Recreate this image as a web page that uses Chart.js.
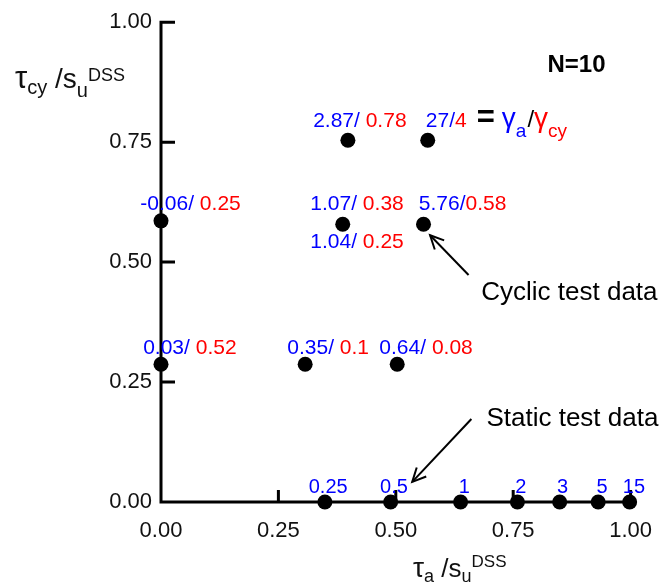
<!DOCTYPE html>
<html><head><meta charset="utf-8">
<script src="https://cdn.jsdelivr.net/npm/chart.js@4.4.1/dist/chart.umd.min.js"></script>
<style>html,body{margin:0;padding:0;background:#fff}#wrap{width:668px;height:585px}</style>
</head><body><div id="wrap"><canvas id="c" width="668" height="585"></canvas></div>
<script>
// ---- data ----
const cyclicX = [0.000, 0.000, 0.307, 0.503, 0.398, 0.568, 0.387, 0.559];
const cyclicY = [0.586, 0.287, 0.287, 0.287, 0.754, 0.754, 0.579, 0.579];
const staticX = [0.349, 0.489, 0.638, 0.759, 0.849, 0.931, 0.998];
const staticY = [0, 0, 0, 0, 0, 0, 0];
const staticLabels = ['0.25', '0.5', '1', '2', '3', '5', '15'];
const cyclicGammaA  = ['-0.06/ ', '0.03/ ', '0.35/ ', '0.64/ ', '2.87/ ', '27/', '1.07/ ', '5.76/', '1.04/ '];
const cyclicGammaCy = ['0.25', '0.52', '0.1', '0.08', '0.78', '4', '0.38', '0.58', '0.25'];
const xTicks = [0, 0.25, 0.5, 0.75, 1.0];
const yTicks = [0, 0.25, 0.5, 0.75, 1.0];

// ---- layout (label anchors in axis units: left x, baseline y) ----
const cyclicLabelPos = [[-0.044,0.608],[-0.038,0.308],[0.269,0.308],[0.465,0.308],[0.324,0.781],[0.564,0.781],[0.318,0.608],[0.549,0.608],[0.318,0.529]];
const staticLabelPos = [[0.356,0.019],[0.496,0.019],[0.646,0.019],[0.766,0.019],[0.855,0.019],[0.939,0.019],[1.007,0.019]];

const FONT = '"Liberation Sans", Arial, sans-serif';
const BLUE = '#0000ff', RED = '#ff0000';

function runs(ctx, x, y, list) {
  for (const r of list) {
    ctx.font = (r.bold ? 'bold ' : '') + r.size + 'px ' + FONT;
    ctx.fillStyle = r.color;
    ctx.fillText(r.text, x + (r.dx || 0), y + (r.dy || 0));
    x += (r.dx || 0) + ctx.measureText(r.text).width;
  }
  return x;
}
function arrow(ctx, x1, y1, x2, y2) {
  ctx.beginPath(); ctx.moveTo(x1, y1); ctx.lineTo(x2, y2); ctx.stroke();
  const a = Math.atan2(y2 - y1, x2 - x1), L = 15, w = 0.45;
  ctx.beginPath();
  ctx.moveTo(x2 - L * Math.cos(a - w), y2 - L * Math.sin(a - w));
  ctx.lineTo(x2, y2);
  ctx.lineTo(x2 - L * Math.cos(a + w), y2 - L * Math.sin(a + w));
  ctx.stroke();
}

const deco = {
  id: 'deco',
  beforeDatasetsDraw(chart) {
    const {ctx, scales: {x, y}} = chart;
    ctx.save();
    ctx.strokeStyle = '#000'; ctx.lineWidth = 3; ctx.lineCap = 'butt';
    const x0 = x.getPixelForValue(0), y0 = y.getPixelForValue(0);
    ctx.beginPath();
    ctx.moveTo(x0, y.getPixelForValue(1) - 1.5); ctx.lineTo(x0, y0 + 1.5);
    ctx.moveTo(x0 - 1.5, y0); ctx.lineTo(x.getPixelForValue(1) + 4, y0);
    for (const t of yTicks) if (t > 0) { const p = y.getPixelForValue(t); ctx.moveTo(x0, p); ctx.lineTo(x0 + 14, p); }
    for (const t of xTicks) if (t > 0) { const p = x.getPixelForValue(t); ctx.moveTo(p, y0); ctx.lineTo(p, y0 - 12); }
    ctx.stroke();
    ctx.restore();
  },
  afterDatasetsDraw(chart) {
    const {ctx, scales: {x, y}, chartArea: ca} = chart;
    ctx.save();
    ctx.textAlign = 'left'; ctx.textBaseline = 'alphabetic';
    // cyclic labels
    cyclicGammaA.forEach((g, i) => {
      const [lx, ly] = cyclicLabelPos[i];
      const end = runs(ctx, x.getPixelForValue(lx), y.getPixelForValue(ly), [
        {text: g, color: BLUE, size: 21},
        {text: cyclicGammaCy[i], color: RED, size: 21}
      ]);
      if (i === 5) {
        runs(ctx, end, y.getPixelForValue(ly), [
          {text: '=', color: '#000', size: 31, dx: 10, bold: true},
          {text: 'γ', color: BLUE, size: 28, dx: 7},
          {text: 'a', color: BLUE, size: 19, dy: 10},
          {text: '/', color: '#000', size: 24, dx: 1},
          {text: 'γ', color: RED, size: 28},
          {text: 'cy', color: RED, size: 19, dy: 10}
        ]);
      }
    });
    // static labels
    ctx.textAlign = 'center';
    staticLabels.forEach((s, i) => {
      const [lx, ly] = staticLabelPos[i];
      ctx.font = '20px ' + FONT; ctx.fillStyle = BLUE;
      ctx.fillText(s, x.getPixelForValue(lx), y.getPixelForValue(ly));
    });
    ctx.textAlign = 'left';
    // N=10
    ctx.font = 'bold 24px ' + FONT; ctx.fillStyle = '#000';
    ctx.fillText('N=10', x.getPixelForValue(0.823), y.getPixelForValue(0.896));
    // annotations
    ctx.font = '26px ' + FONT; ctx.fillStyle = '#000';
    ctx.fillText('Cyclic test data', x.getPixelForValue(0.682), y.getPixelForValue(0.422));
    ctx.fillText('Static test data', x.getPixelForValue(0.693), y.getPixelForValue(0.158));
    ctx.strokeStyle = '#000'; ctx.lineWidth = 2;
    arrow(ctx, x.getPixelForValue(0.655), y.getPixelForValue(0.473), x.getPixelForValue(0.573), y.getPixelForValue(0.556));
    arrow(ctx, x.getPixelForValue(0.661), y.getPixelForValue(0.173), x.getPixelForValue(0.535), y.getPixelForValue(0.042));
    // axis titles
    runs(ctx, ca.left - 146, ca.top + 66, [
      {text: 'τ', color: '#111', size: 31},
      {text: 'cy', color: '#111', size: 20, dy: 6},
      {text: ' /s', color: '#111', size: 28},
      {text: 'u', color: '#111', size: 20, dy: 9},
      {text: 'DSS', color: '#111', size: 18, dy: -7}
    ]);
    runs(ctx, ca.left + 252, ca.bottom + 75, [
      {text: 'τ', color: '#111', size: 28},
      {text: 'a', color: '#111', size: 18, dy: 5},
      {text: ' /s', color: '#111', size: 26},
      {text: 'u', color: '#111', size: 18, dy: 5},
      {text: 'DSS', color: '#111', size: 17, dy: -10}
    ]);
    ctx.restore();
  }
};

const ctx = document.getElementById('c').getContext('2d');
new Chart(ctx, {
  type: 'scatter',
  data: {
    datasets: [
      {label: 'Cyclic test data', data: cyclicX.map((v, i) => ({x: v, y: cyclicY[i]})),
       backgroundColor: '#000', borderColor: '#000', pointRadius: 7.5, borderWidth: 0, clip: false},
      {label: 'Static test data', data: staticX.map((v, i) => ({x: v, y: staticY[i]})),
       backgroundColor: '#000', borderColor: '#000', pointRadius: 7.5, borderWidth: 0, clip: false}
    ]
  },
  options: {
    responsive: false, animation: false, devicePixelRatio: 1,
    layout: {padding: {left: 0, right: 32, top: 21, bottom: 0}},
    plugins: {legend: {display: false}, tooltip: {enabled: false}},
    scales: {
      x: {
        type: 'linear', min: 0, max: 1,
        afterFit(s) { s.height = 83; },
        afterBuildTicks(s) { s.ticks = xTicks.map(v => ({value: v})); },
        grid: {display: false, drawTicks: false}, border: {display: false},
        ticks: {padding: 16, color: '#111', font: {family: FONT, size: 22}, maxRotation: 0, autoSkip: false,
                callback: v => Number(v).toFixed(2)}
      },
      y: {
        type: 'linear', min: 0, max: 1,
        afterFit(s) { s.width = 161; },
        afterBuildTicks(s) { s.ticks = yTicks.map(v => ({value: v})); },
        grid: {display: false, drawTicks: false}, border: {display: false},
        ticks: {padding: 9, color: '#111', font: {family: FONT, size: 22}, autoSkip: false,
                callback: v => Number(v).toFixed(2)}
      }
    }
  },
  plugins: [deco]
});
</script></body></html>
